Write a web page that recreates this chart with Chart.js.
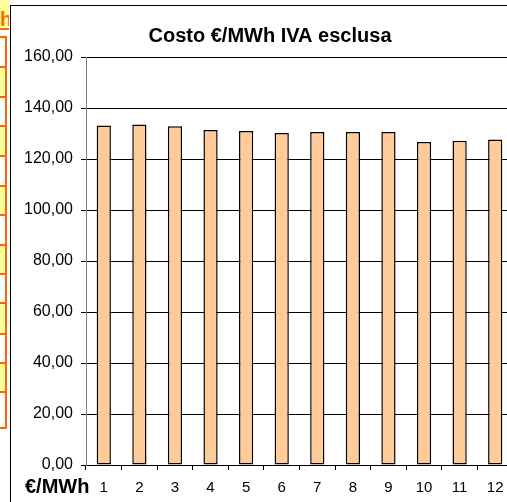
<!DOCTYPE html>
<html>
<head>
<meta charset="utf-8">
<script src="https://cdn.jsdelivr.net/npm/chart.js@4"></script>
<style>
body { margin: 0; width: 507px; height: 502px; overflow: hidden; background: #fff; position: relative; font-family: "Liberation Sans", Arial, sans-serif; }
.cella { position: absolute; left: 0; width: 5px; border-top: 2px solid #ff6600; box-sizing: border-box; }
.gialla { background: #ffff99; }
#intestazione { position: absolute; left: 0; top: 0; width: 9px; height: 30px; background: #ffff99; border-bottom: 2px solid #ff6600; box-sizing: border-box; overflow: hidden; color: #ff6600; font-weight: bold; font-size: 20px; line-height: 38px; text-align: right; }
#bordoArancio { position: absolute; left: 5px; top: 36px; width: 2px; height: 393px; background: #ff6600; }
#cornice { position: absolute; left: 10px; top: 5px; width: 520px; height: 520px; border-left: 1px solid #000; border-top: 1px solid #000; }
#grafico { position: absolute; left: 11px; top: 6px; }
</style>
</head>
<body>
<div id="intestazione">h</div>
<div class="cella" style="top:36px;height:30px"></div>
<div class="cella gialla" style="top:66px;height:30px"></div>
<div class="cella" style="top:96px;height:29px"></div>
<div class="cella gialla" style="top:125px;height:30px"></div>
<div class="cella" style="top:155px;height:30px"></div>
<div class="cella gialla" style="top:185px;height:29px"></div>
<div class="cella" style="top:214px;height:30px"></div>
<div class="cella gialla" style="top:244px;height:29px"></div>
<div class="cella" style="top:273px;height:29px"></div>
<div class="cella gialla" style="top:302px;height:31px"></div>
<div class="cella" style="top:333px;height:29px"></div>
<div class="cella gialla" style="top:362px;height:29px"></div>
<div class="cella" style="top:391px;height:38px;border-bottom:2px solid #ff6600"></div>
<div id="bordoArancio"></div>
<div id="cornice"></div>
<canvas id="grafico" width="502" height="496"></canvas>
<script>
'use strict';

const titolo = 'Costo €/MWh IVA esclusa';
const unita = '€/MWh';
const mesi = ['1', '2', '3', '4', '5', '6', '7', '8', '9', '10', '11', '12'];
const costi = [133.1, 133.5, 132.8, 131.4, 131.0, 130.2, 130.6, 130.6, 130.6, 126.7, 127.2, 127.6];
const asseMin = 0;
const asseMax = 160;
const passo = 20;

const font = '"Liberation Sans", Arial, sans-serif';

/**
 * Disegna il titolo e l'etichetta dell'unità.
 */
const testiExtra = {
    id: 'testiExtra',
    afterDraw(chart) {
        const ctx = chart.ctx;
        ctx.save();
        ctx.fillStyle = '#000';
        ctx.font = 'bold 20px ' + font;
        ctx.textBaseline = 'middle';
        ctx.textAlign = 'center';
        ctx.fillText(titolo, 259, 30);
        ctx.textAlign = 'left';
        ctx.fillText(unita, 14, 481);
        ctx.restore();
    }
};

new Chart(document.getElementById('grafico').getContext('2d'), {
    type: 'bar',
    data: {
        labels: mesi,
        datasets: [{
            data: costi,
            backgroundColor: '#ffcc99',
            borderColor: '#000',
            borderWidth: 1.5,
            borderSkipped: false,
            categoryPercentage: 1,
            barPercentage: 0.4
        }]
    },
    options: {
        responsive: false,
        animation: false,
        devicePixelRatio: 1,
        layout: { padding: { top: 51, left: 0, right: 0, bottom: 0 } },
        plugins: {
            legend: { display: false },
            title: { display: false },
            tooltip: { enabled: false }
        },
        scales: {
            x: {
                offset: true,
                grid: { display: true, drawOnChartArea: false, drawTicks: true, tickLength: 5, color: '#000', offset: true },
                border: { color: '#000', width: 1 },
                ticks: { color: '#000', font: { family: font, size: 15 }, padding: 9, maxRotation: 0 },
                afterFit(scala) { scala.height = 37; }
            },
            y: {
                min: asseMin,
                max: asseMax,
                grid: { color: '#000', lineWidth: 1, tickLength: 5, drawTicks: true },
                border: { color: '#808080', width: 1 },
                ticks: {
                    stepSize: passo,
                    color: '#000',
                    padding: 8,
                    font: { family: font, size: 16 },
                    callback: v => v.toFixed(2).replace('.', ',')
                },
                afterFit(scala) { scala.width = 75; }
            }
        }
    },
    plugins: [testiExtra]
});
</script>
</body>
</html>
